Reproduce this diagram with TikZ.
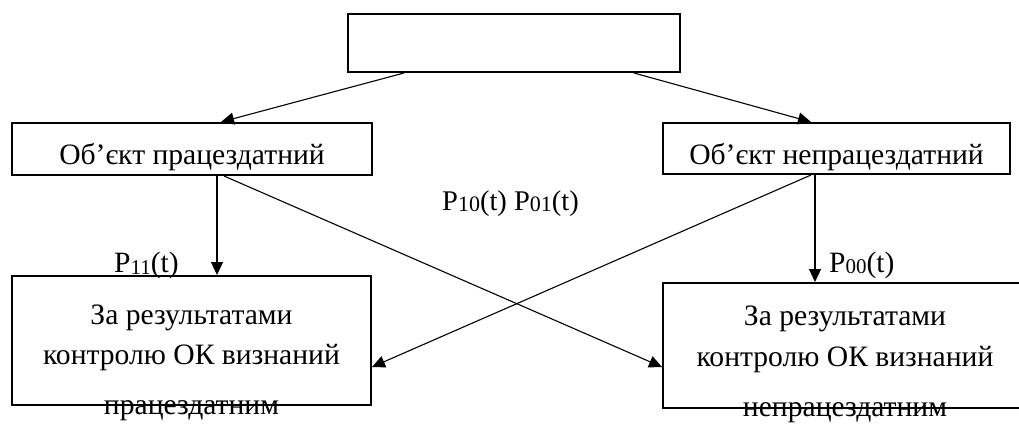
\documentclass[tikz,border=0pt]{standalone}
\usepackage{fontspec}
\setmainfont{Liberation Serif}
\usetikzlibrary{arrows.meta,calc}
\newcommand\Plab[3]{P\raisebox{#3}{\fontsize{#2}{#2}\selectfont #1}(t)}
\begin{document}
\begin{tikzpicture}[x=1pt,y=-1pt,
  box/.style={draw,line width=2pt,rectangle,inner sep=0pt},
  arr/.style={line width=1.1pt,-{Triangle[length=13pt,width=12pt]}},
  txt/.style={anchor=base,inner sep=0pt,font=\fontsize{29.6}{34}\selectfont},
  lab/.style={anchor=base west,inner sep=0pt,font=\fontsize{29.5}{32}\selectfont}]
\useasboundingbox (0,0) rectangle (1019,425);
\clip (0,0) rectangle (1019,425);
\fill[white] (0,0) rectangle (1019,425);
% boxes
\node[box,minimum width=332pt,minimum height=58pt] (top) at (514,43) {};
\node[box,minimum width=360pt,minimum height=52pt] (L1) at (192,149) {};
\node[box,minimum width=347pt,minimum height=51pt] (R1) at (836.5,148.5) {};
\node[box,minimum width=359pt,minimum height=129pt] (L2) at (191.5,340.5) {};
\node[box,minimum width=366pt,minimum height=125pt] (R2) at (846,345.5) {};
% texts
\node[txt] (t1) at (192,164) {Об’єкт працездатний};
\node[txt] (t2) at (836.5,164) {Об’єкт непрацездатний};
\node[txt] (t3) at (191.5,324) {За результатами};
\node[txt] (t4) at (191.5,364) {контролю ОК визнаний};
\node[txt] (t5) at (191.5,414) {працездатним};
\node[txt] (t6) at (845,325) {За результатами};
\node[txt] (t7) at (845,366) {контролю ОК визнаний};
\node[txt] (t8) at (845,416) {непрацездатним};
% labels
\node[lab] (p11) at (114,272) {\Plab{11}{21}{-2pt}};
\node[lab] (p00) at (829,272) {\Plab{00}{21}{-1pt}};
\node[lab,font=\fontsize{28.5}{32}\selectfont] (p1001) at (442,210) {\Plab{10}{22}{-1pt} \Plab{01}{22}{-1pt}};
% connectors
\draw[arr] ($(top.south west)+(57,0)$) -- ($(L1.north west)+(210,0)$);
\draw[arr] ($(top.south west)+(287,0)$) -- ($(R1.north west)+(149,0)$);
\draw[arr] ($(L1.south west)+(206,0)$) -- ($(L2.north west)+(206,0)$);
\draw[arr] ($(L1.south west)+(213,0)$) -- ($(R2.north west)+(0,85)$);
\draw[arr] ($(R1.south west)+(153,0)$) -- ($(R2.north west)+(153,0)$);
\draw[arr] ($(R1.south west)+(149,0)$) -- ($(L2.north east)+(0,92)$);
\end{tikzpicture}
\end{document}
